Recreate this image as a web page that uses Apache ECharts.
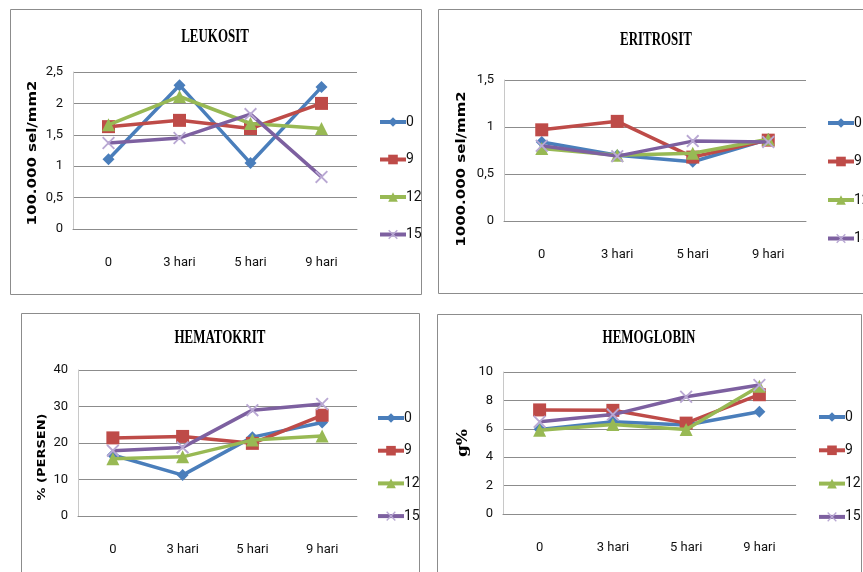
<!DOCTYPE html>
<html>
<head>
<meta charset="utf-8">
<script src="https://cdn.jsdelivr.net/npm/echarts@6/dist/echarts.min.js"></script>
<style>
  html, body { margin: 0; padding: 0; background: #ffffff; }
  #chart { width: 863px; height: 572px; }
</style>
</head>
<body>
<div id="chart"></div>
<script>
// Hari pengamatan (sumbu kategori)
var categories = ['0', '3 hari', '5 hari', '9 hari'];
// Nama kelompok perlakuan
var groupNames = ['0', '9', '12', '15'];

// LEUKOSIT (100.000 sel/mm2)
var leukosit0  = [1.11, 2.29, 1.05, 2.26];
var leukosit9  = [1.63, 1.73, 1.60, 2.00];
var leukosit12 = [1.66, 2.11, 1.68, 1.60];
var leukosit15 = [1.37, 1.45, 1.83, 0.83];

// ERITROSIT (1000.000 sel/mm2)
var eritrosit0  = [0.84, 0.70, 0.63, 0.87];
var eritrosit9  = [0.97, 1.06, 0.68, 0.86];
var eritrosit12 = [0.77, 0.70, 0.72, 0.87];
var eritrosit15 = [0.80, 0.69, 0.85, 0.84];

// HEMATOKRIT (%)
var hematokrit0  = [16.7, 11.2, 21.6, 25.6];
var hematokrit9  = [21.4, 21.8, 19.9, 27.6];
var hematokrit12 = [15.7, 16.2, 20.8, 21.9];
var hematokrit15 = [17.9, 18.8, 29.0, 30.7];

// HEMOGLOBIN (g%)
var hemoglobin0  = [5.96, 6.50, 6.27, 7.20];
var hemoglobin9  = [7.33, 7.30, 6.40, 8.40];
var hemoglobin12 = [5.90, 6.30, 5.95, 9.00];
var hemoglobin15 = [6.50, 7.00, 8.26, 9.08];

// Skala sumbu Y tiap panel: [min, max, interval]
var leukositScale   = [0, 2.5, 0.5];
var eritrositScale  = [0, 1.5, 0.5];
var hematokritScale = [0, 40, 10];
var hemoglobinScale = [0, 10, 2];

var lineColors   = ['#4A7EBB', '#BE4B48', '#98B954', '#7D60A0'];
var markerColors = ['#4A7EBB', '#BE4B48', '#98B954', '#B9A8D3'];
var crossPath = 'path://M1,0L5,4L9,0L10,1L6,5L10,9L9,10L5,6L1,10L0,9L4,5L0,1Z';
var markers = ['diamond', 'rect', 'triangle', crossPath];
var markerSizes = [12, 13, 13, 13];

var labelFont = 'Roboto, "Liberation Sans", sans-serif';

var panels = [
  { title: 'LEUKOSIT',   yName: '100.000 sel/mm2',  scale: leukositScale,
    data: [leukosit0, leukosit9, leukosit12, leukosit15],
    grid: { left: 73, top: 72, width: 284, height: 157 },
    titlePos: [215, 37], namePos: [33, 153], nameFont: 'bold 15px "DejaVu Sans"',
    legend: { left: 373, top: 110, itemGap: 23.5 }, frame: [10.5, 9.5, 411, 285] },
  { title: 'ERITROSIT',  yName: '1000.000 sel/mm2', scale: eritrositScale,
    data: [eritrosit0, eritrosit9, eritrosit12, eritrosit15],
    grid: { left: 504, top: 80, width: 302, height: 141 },
    titlePos: [656, 40], namePos: [462, 169], nameFont: 'bold 15px "DejaVu Sans"',
    legend: { left: 821, top: 111, itemGap: 24.5 }, frame: [438.5, 9.5, 460, 284] },
  { title: 'HEMATOKRIT', yName: '% (PERSEN)',       scale: hematokritScale,
    data: [hematokrit0, hematokrit9, hematokrit12, hematokrit15],
    grid: { left: 78, top: 370, width: 279, height: 146 },
    titlePos: [220, 338], namePos: [42, 457], nameFont: 'bold 13px "DejaVu Sans"',
    legend: { left: 371, top: 406, itemGap: 18.7 }, frame: [21.5, 313.5, 398, 300] },
  { title: 'HEMOGLOBIN', yName: 'g%',               scale: hemoglobinScale,
    data: [hemoglobin0, hemoglobin9, hemoglobin12, hemoglobin15],
    grid: { left: 503, top: 372, width: 293, height: 142 },
    titlePos: [649, 338], namePos: [463, 443], nameFont: 'bold 17px "DejaVu Serif"',
    legend: { left: 812, top: 405, itemGap: 19.3 }, frame: [437.5, 314.5, 424, 300] }
];

var grids = [], xAxes = [], yAxes = [], series = [], legends = [], graphics = [];

panels.forEach(function (p, pi) {
  graphics.push({
    type: 'rect', z: -1, silent: true,
    shape: { x: p.frame[0], y: p.frame[1], width: p.frame[2], height: p.frame[3] },
    style: { fill: '#ffffff', stroke: '#8C8C8C', lineWidth: 1 }
  });
  // judul panel, huruf serif yang dipadatkan
  graphics.push({
    type: 'text', x: p.titlePos[0], y: p.titlePos[1], scaleX: 0.72,
    style: { text: p.title, fontFamily: '"Liberation Serif", serif', fontWeight: 'bold',
             fontSize: 18, fill: '#000000', align: 'center', verticalAlign: 'middle' }
  });
  // nama sumbu Y, diputar 90 derajat
  graphics.push({
    type: 'text', x: p.namePos[0], y: p.namePos[1], rotation: Math.PI / 2, scaleY: 0.85,
    style: { text: p.yName, font: p.nameFont, fill: '#000000',
             align: 'center', verticalAlign: 'middle' }
  });

  grids.push(Object.assign({ containLabel: false }, p.grid));

  xAxes.push({
    type: 'category', gridIndex: pi, data: categories, boundaryGap: true,
    axisLine: { show: true, lineStyle: { color: '#8C8C8C', width: 1 } },
    axisTick: { show: false },
    axisLabel: { color: '#111111', fontFamily: labelFont, fontSize: 13, margin: 27 },
    splitLine: { show: false }
  });

  yAxes.push({
    type: 'value', gridIndex: pi,
    min: p.scale[0], max: p.scale[1], interval: p.scale[2],
    axisLine: { show: true, lineStyle: { color: '#C8C8C8', width: 1 } },
    axisTick: { show: false },
    axisLabel: {
      color: '#111111', fontFamily: labelFont, fontSize: 13, margin: 10,
      formatter: function (v) { return String(v).replace('.', ','); }
    },
    splitLine: { show: true, lineStyle: { color: '#8C8C8C', width: 1 } }
  });

  p.data.forEach(function (values, si) {
    series.push({
      name: groupNames[si], type: 'line',
      xAxisIndex: pi, yAxisIndex: pi,
      data: values,
      symbol: markers[si], symbolSize: markerSizes[si], showAllSymbol: true,
      lineStyle: { color: lineColors[si], width: 3.5 },
      itemStyle: { color: markerColors[si] },
      emphasis: { disabled: true },
      z: 2 + si,
      animation: false
    });
  });

  legends.push({
    orient: 'vertical', left: p.legend.left, top: p.legend.top,
    itemGap: p.legend.itemGap, itemWidth: 26, itemHeight: 12,
    data: groupNames.slice(),
    lineStyle: { width: 4 },
    textStyle: { color: '#111111', fontFamily: labelFont, fontSize: 14, padding: [0, 0, 0, -5] },
    selectedMode: false
  });
});

var chart = echarts.init(document.getElementById('chart'), null, { renderer: 'canvas' });
chart.setOption({
  backgroundColor: '#ffffff',
  animation: false,
  graphic: graphics,
  grid: grids,
  xAxis: xAxes,
  yAxis: yAxes,
  legend: legends,
  series: series
});
</script>
</body>
</html>
